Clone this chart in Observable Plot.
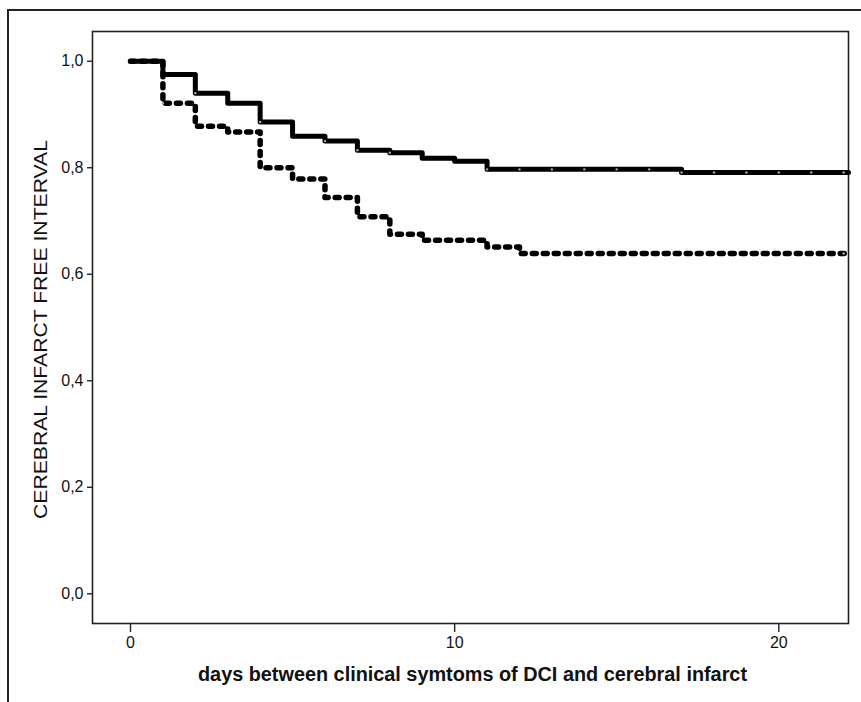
<!DOCTYPE html>
<html><head><meta charset="utf-8">
<script src="https://cdn.jsdelivr.net/npm/d3@7"></script>
<script src="https://cdn.jsdelivr.net/npm/@observablehq/plot@0.6"></script>
<style>
html,body{margin:0;padding:0;background:#fff;}
#wrap{position:relative;width:861px;height:702px;overflow:hidden;background:#fff;}
#outer{position:absolute;left:7px;top:9px;width:900px;height:800px;border-left:2px solid #222;border-top:2px solid #222;}
#chart{position:absolute;left:0;top:0;}
</style></head><body>
<div id="wrap"><div id="outer"></div><div id="chart"></div></div>
<script>
// ---- data ----
const xTicks = [0, 10, 20];
const yTicks = [0, 0.2, 0.4, 0.6, 0.8, 1.0];
const xLabel = "days between clinical symtoms of DCI and cerebral infarct";
const yLabel = "CEREBRAL INFARCT FREE INTERVAL";

// solid curve (group 1)
const solidDays   = [0, 1, 2, 3, 4, 5, 6, 7, 8, 9, 10, 11, 17, 22.15];
const solidValues = [1.0, 0.975, 0.940, 0.921, 0.886, 0.859, 0.850, 0.833, 0.828, 0.818, 0.812, 0.797, 0.791, 0.791];
const solidCensored = [2, 4, 6, 7, 8, 11, 12, 13, 14, 15, 16, 17, 18, 19, 20, 21, 22];

// dashed curve (group 2)
const dashDays   = [0, 1, 2, 3, 4, 5, 6, 7, 8, 9, 11, 12, 22.15];
const dashValues = [1.0, 0.921, 0.878, 0.867, 0.800, 0.779, 0.744, 0.708, 0.675, 0.664, 0.651, 0.639, 0.639];
const dashCensored = [1, 22];

// ---- build tables ----
const solid = solidDays.map((d, i) => ({day: d, s: solidValues[i]}));
const dashed = dashDays.map((d, i) => ({day: d, s: dashValues[i]}));
function stepAt(days, vals, t) {
  const i = d3.bisectRight(days, t) - 1;
  return vals[Math.max(0, i)];
}
const solidCens = solidCensored.map(t => ({day: t, s: stepAt(solidDays, solidValues, t)}));
const dashCens = dashCensored.map(t => ({day: t, s: stepAt(dashDays, dashValues, t)}));

const fmt = d => d.toFixed(1).replace(".", ",");

const chart = Plot.plot({
  width: 861,
  height: 702,
  marginLeft: 92,
  marginRight: 13,
  marginTop: 31,
  marginBottom: 79,
  style: {fontFamily: "'Liberation Sans', Arial, sans-serif", fontSize: "15px", color: "#111", background: "transparent"},
  x: {domain: [-1.172, 22.15], axis: null},
  y: {domain: [-0.0558, 1.0558], axis: null},
  marks: [
    Plot.frame({stroke: "#222", strokeWidth: 1.6}),
    Plot.axisY(yTicks, {tickSize: 5, tickPadding: 4, tickFormat: fmt, stroke: "#222", strokeWidth: 1.4, label: null, fontSize: 15}),
    Plot.axisX(xTicks, {tickSize: 9, tickPadding: 4, tickFormat: d => String(d), stroke: "#222", strokeWidth: 1.4, label: null, fontSize: 15}),
    Plot.line(dashed, {x: "day", y: "s", curve: "step-after", stroke: "#000", strokeWidth: 5.5, strokeDasharray: "4,7", strokeLinecap: "round", strokeLinejoin: "round"}),
    Plot.line(solid, {x: "day", y: "s", curve: "step-after", stroke: "#000", strokeWidth: 5, strokeLinecap: "round", strokeLinejoin: "round"}),
    Plot.dot(solidCens, {x: "day", y: "s", r: 1.2, fill: "#aaa"}),
    Plot.dot(dashCens, {x: "day", y: "s", r: 1.2, fill: "#aaa"}),
    Plot.text([xLabel], {frameAnchor: "bottom", dx: 2, dy: 57, fontSize: 20, fontWeight: "bold", fill: "#111"}),
    Plot.text([yLabel], {frameAnchor: "left", textAnchor: "middle", rotate: -90, dx: -52, dy: 2, fontSize: 19, fill: "#111"})
  ]
});
document.getElementById("chart").appendChild(chart);
d3.select(chart).selectAll("text").each(function() {
  const t = this.textContent;
  const el = d3.select(this);
  if (t === xLabel) el.attr("textLength", 549).attr("lengthAdjust", "spacingAndGlyphs");
  else if (t === yLabel) el.attr("textLength", 379).attr("lengthAdjust", "spacingAndGlyphs");
  else el.attr("font-size", 16).style("font-size", "16px", "important");
});
</script>
</body></html>
